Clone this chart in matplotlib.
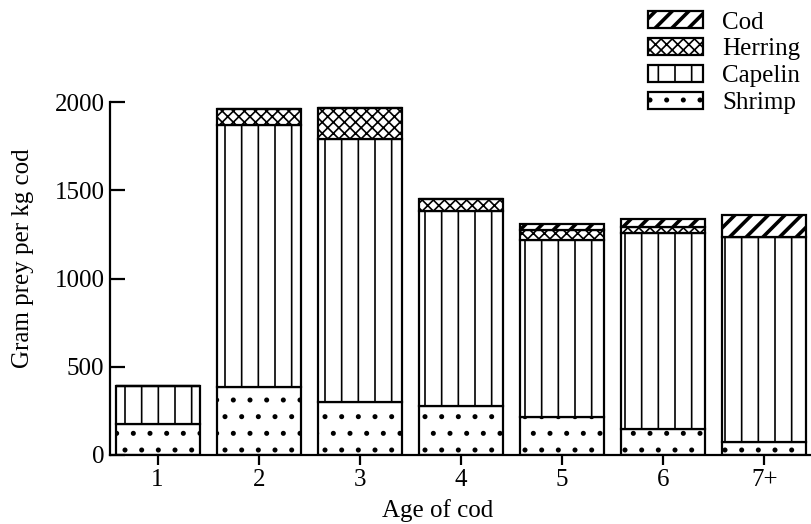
import numpy as np
import matplotlib
matplotlib.use("Agg")
import matplotlib.pyplot as plt

# values (gram prey per kg cod, stacked segments)
ages = ["1", "2", "3", "4", "5", "6", "7+"]
shrimp = [175, 385, 300, 275, 215, 150, 75]
capelin = [215, 1485, 1490, 1105, 1005, 1110, 1160]
herring = [0, 90, 175, 70, 55, 30, 0]
cod = [0, 0, 0, 0, 35, 45, 125]

plt.rcParams["font.family"] = ["Liberation Serif", "DejaVu Serif"]
plt.rcParams["hatch.linewidth"] = 1.2
plt.rcParams["hatch.color"] = "black"

fig = plt.figure(figsize=(8.12, 5.24), dpi=100)
ax = fig.add_axes([0.1355, 0.1317, 0.8645, 0.6736])

x = np.arange(1, len(ages) + 1)
w = 0.83
kw = dict(width=w, color="white", edgecolor="black", linewidth=1.6)

bottom = np.zeros(len(ages))
b_shrimp = ax.bar(x, shrimp, bottom=bottom, hatch=".", label="Shrimp", **kw)
bottom += shrimp
b_capelin = ax.bar(x, capelin, bottom=bottom, hatch="|", label="Capelin", **kw)
bottom += capelin
b_herring = ax.bar(x, herring, bottom=bottom, hatch="xxx", label="Herring", **kw)
bottom += herring
b_cod = ax.bar(x, cod, bottom=bottom, hatch="//", label="Cod", **kw)

# cod hatch is drawn heavier in the original
for p in b_cod:
    if hasattr(p, "set_hatch_linewidth"):
        p.set_hatch_linewidth(2.6)

ax.set_xlim(0.53, 7.47)
ax.set_ylim(0, 2000)
ax.set_xticks(x)
ax.set_xticklabels(ages)
ax.set_yticks([0, 500, 1000, 1500, 2000])

for s in ["top", "right"]:
    ax.spines[s].set_visible(False)
ax.spines["left"].set_linewidth(1.6)
ax.spines["bottom"].set_linewidth(1.6)
ax.tick_params(axis="y", direction="in", length=11, width=1.6, labelsize=18, pad=4)
ax.tick_params(axis="x", direction="out", length=7, width=1.6, labelsize=18, pad=3)

ax.set_ylabel("Gram prey per kg cod", fontsize=18)
ax.yaxis.set_label_coords(-0.108, 0.558)
ax.set_xlabel("Age of cod", fontsize=18)
ax.xaxis.set_label_coords(0.466, -0.125)

handles = [b_cod, b_herring, b_capelin, b_shrimp]
leg = fig.legend(handles, ["Cod", "Herring", "Capelin", "Shrimp"],
                 loc="upper left", bbox_to_anchor=(0.792, 0.988), frameon=False,
                 fontsize=18, handlelength=2.2, handleheight=0.68,
                 labelspacing=0.18, handletextpad=0.76, borderpad=0.2,
                 borderaxespad=0.0)
for h in leg.legend_handles:
    if h.get_hatch() == "//" and hasattr(h, "set_hatch_linewidth"):
        h.set_hatch_linewidth(2.6)

fig.savefig("out.png", dpi=100)
